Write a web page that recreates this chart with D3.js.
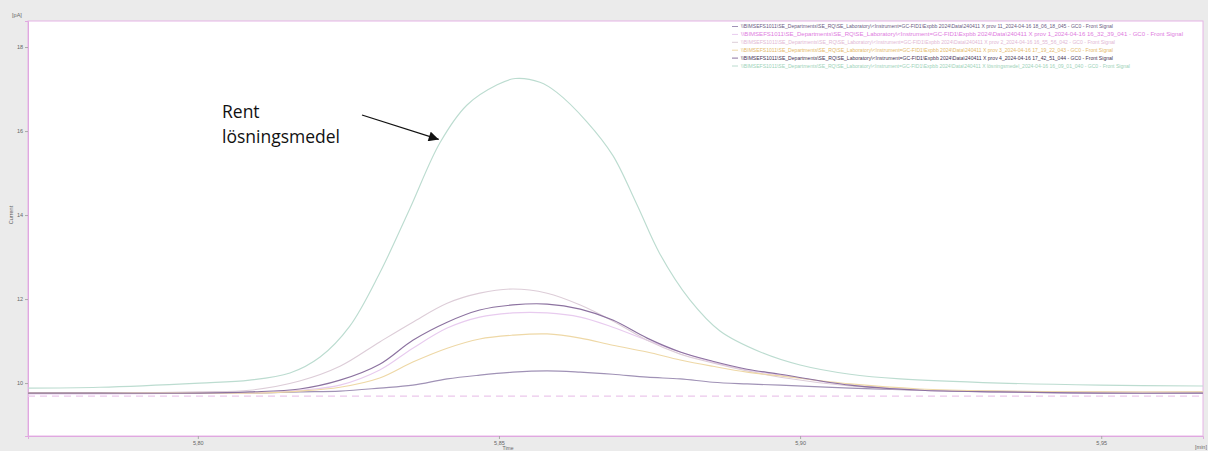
<!DOCTYPE html>
<html>
<head>
<meta charset="utf-8">
<script src="https://cdn.jsdelivr.net/npm/d3@7"></script>
<style>
  body { margin: 0; background: #ebebeb; }
  svg { display: block; font-family: "Liberation Sans", "DejaVu Sans", sans-serif; }
</style>
</head>
<body>
<svg id="chart" width="1208" height="451"></svg>
<script>
// retention time [min] shared by the five sample traces
const sampleTime = [5.7718, 5.7837, 5.8003, 5.8086, 5.8169, 5.8236, 5.8302, 5.8357, 5.8414, 5.8468,
  5.8523, 5.8580, 5.8635, 5.8689, 5.8746, 5.8801, 5.8855, 5.8912, 5.8967, 5.9083, 5.9199, 5.9332, 5.9498, 5.9669];

// current [pA]
const prov11 = [9.76, 9.76, 9.76, 9.76, 9.79, 9.81, 9.88, 9.95, 10.10, 10.19, 10.26, 10.29, 10.26, 10.21,
  10.14, 10.10, 10.02, 9.98, 9.95, 9.88, 9.83, 9.79, 9.76, 9.76];
const prov1 = [9.74, 9.74, 9.76, 9.76, 9.83, 9.95, 10.31, 10.83, 11.31, 11.57, 11.67, 11.67, 11.57, 11.33,
  11.02, 10.74, 10.50, 10.31, 10.19, 9.95, 9.83, 9.79, 9.76, 9.76];
const prov2 = [9.76, 9.76, 9.79, 9.83, 10.05, 10.40, 10.98, 11.45, 11.90, 12.14, 12.24, 12.14, 11.86, 11.48,
  11.02, 10.69, 10.48, 10.29, 10.14, 9.93, 9.83, 9.81, 9.79, 9.79];
const prov3 = [9.76, 9.76, 9.76, 9.76, 9.81, 9.90, 10.12, 10.50, 10.83, 11.05, 11.14, 11.17, 11.07, 10.90,
  10.74, 10.55, 10.40, 10.26, 10.17, 9.98, 9.86, 9.81, 9.79, 9.79];
const prov4 = [9.76, 9.76, 9.76, 9.79, 9.86, 10.07, 10.45, 11.02, 11.45, 11.74, 11.86, 11.88, 11.76, 11.50,
  11.07, 10.74, 10.52, 10.33, 10.21, 9.95, 9.83, 9.79, 9.76, 9.76];

// pure solvent trace, sampled more densely round its peak
const solventTime = [5.7718, 5.7837, 5.8003, 5.8086, 5.8153, 5.8203, 5.8252, 5.8302, 5.8352, 5.8402, 5.8447,
  5.8497, 5.8527, 5.8568, 5.8596, 5.8646, 5.8689, 5.8729, 5.8767, 5.8817, 5.8867, 5.8934, 5.9000, 5.9083,
  5.9166, 5.9332, 5.9498, 5.9669];
const solvent = [9.88, 9.90, 10.00, 10.07, 10.24, 10.62, 11.35, 12.62, 14.15, 15.72, 16.62, 17.10, 17.25,
  17.16, 16.92, 16.22, 15.42, 14.25, 13.08, 11.98, 11.24, 10.74, 10.43, 10.21, 10.10, 10.00, 9.95, 9.93];

// dashed reference level
const dashedTime = [5.7718, 5.9669];
const dashedLevel = [9.69, 9.69];

const prefix = "\\\\BIMSEFS1011\\SE_Departments\\SE_RQ\\SE_Laboratory\\<Instrument=GC-FID1\\Expbb 2024\\Data\\240411 X ";
const legendNames = [
  prefix + "prov 11_2024-04-16 18_06_18_045 - GC0 - Front Signal",
  prefix + "prov 1_2024-04-16 16_32_39_041 - GC0 - Front Signal",
  prefix + "prov 2_2024-04-16 16_55_56_042 - GC0 - Front Signal",
  prefix + "prov 3_2024-04-16 17_19_22_043 - GC0 - Front Signal",
  prefix + "prov 4_2024-04-16 17_42_51_044 - GC0 - Front Signal",
  prefix + "lösningsmedel_2024-04-16 16_09_01_040 - GC0 - Front Signal"
];
const lineColors = ["#a092b6", "#e8cbef", "#ddcdd8", "#eed8a6", "#8c72a0", "#bcdcd0"];
const textColors = ["#6a5a82", "#e07ce0", "#e2b8d4", "#e4b868", "#43304f", "#9cd2b8"];
const legendWidths = [372, 442, 374, 372, 372, 389];

const series = [
  {time: sampleTime, values: prov11},
  {time: sampleTime, values: prov1},
  {time: sampleTime, values: prov2},
  {time: sampleTime, values: prov3},
  {time: sampleTime, values: prov4},
  {time: solventTime, values: solvent}
];

const svg = d3.select("#chart");
const plotLeft = 28, plotRight = 1203, plotTop = 21, plotBottom = 436;

const x = d3.scaleLinear().domain([5.7718, 5.9669]).range([plotLeft, plotRight]);
const y = d3.scaleLinear().domain([8.74, 18.62]).range([plotBottom, plotTop]);

// plot area
svg.append("rect")
  .attr("x", plotLeft).attr("y", plotTop)
  .attr("width", plotRight - plotLeft).attr("height", plotBottom - plotTop)
  .attr("fill", "#fff")
  .attr("stroke", "#e6b4e6").attr("stroke-width", 1);

const comma = d => d.toFixed(2).replace(".", ",");

const xAxis = svg.append("g")
  .attr("transform", `translate(0,${plotBottom})`)
  .call(d3.axisBottom(x).tickValues([5.80, 5.85, 5.90, 5.95]).tickFormat(comma).tickSize(3).tickPadding(2));
const yAxis = svg.append("g")
  .attr("transform", `translate(${plotLeft},0)`)
  .call(d3.axisLeft(y).ticks(5).tickSize(3).tickPadding(2));

[xAxis, yAxis].forEach(g => {
  g.select(".domain").attr("stroke", "#e0a8e0");
  g.selectAll(".tick line").attr("stroke", "#aaa");
  g.selectAll(".tick text").attr("fill", "#666").attr("font-size", 5.5);
});

svg.append("text").attr("x", 17).attr("y", 17).attr("text-anchor", "middle")
  .attr("font-size", 5.5).attr("fill", "#666").text("[pA]");
svg.append("text").attr("transform", "translate(13,215) rotate(-90)").attr("text-anchor", "middle")
  .attr("font-size", 5.5).attr("fill", "#666").text("Current");
svg.append("text").attr("x", 508).attr("y", 450).attr("text-anchor", "middle")
  .attr("font-size", 5).attr("fill", "#666").text("Time");
svg.append("text").attr("x", 1201).attr("y", 449).attr("text-anchor", "middle")
  .attr("font-size", 5.5).attr("fill", "#666").text("[min]");

const line = d3.line()
  .x(d => x(d[0]))
  .y(d => y(d[1]))
  .curve(d3.curveCatmullRom.alpha(0.5));

const plot = svg.append("g");

plot.append("path")
  .datum(d3.zip(dashedTime, dashedLevel))
  .attr("d", line)
  .attr("fill", "none")
  .attr("stroke", "#ecc8ec")
  .attr("stroke-width", 1.2)
  .attr("stroke-dasharray", "7,5");

plot.selectAll("path.trace")
  .data(series)
  .join("path")
    .attr("class", "trace")
    .attr("d", s => line(d3.zip(s.time, s.values)))
    .attr("fill", "none")
    .attr("stroke", (s, i) => lineColors[i])
    .attr("stroke-width", 1.15);

// legend
const legend = svg.append("g").selectAll("g")
  .data(legendNames)
  .join("g")
    .attr("transform", (d, i) => `translate(732,${26.5 + i * 7.9})`);

legend.append("line")
  .attr("x1", 0).attr("x2", 6)
  .attr("stroke", (d, i) => lineColors[i]);

legend.append("text")
  .attr("x", 9).attr("dy", "0.35em")
  .attr("font-size", 5)
  .attr("fill", (d, i) => textColors[i])
  .attr("textLength", (d, i) => legendWidths[i])
  .attr("lengthAdjust", "spacingAndGlyphs")
  .text(d => d);

// annotation
const note = {time: 5.8400, value: 15.80};
svg.append("defs").append("marker")
  .attr("id", "head")
  .attr("viewBox", "0 0 10 10")
  .attr("refX", 10).attr("refY", 5)
  .attr("markerWidth", 12).attr("markerHeight", 10)
  .attr("markerUnits", "userSpaceOnUse")
  .attr("orient", "auto")
  .append("path").attr("d", "M0,0L10,5L0,10z").attr("fill", "#111");

svg.append("line")
  .attr("x1", 362).attr("y1", 115)
  .attr("x2", x(note.time)).attr("y2", y(note.value))
  .attr("stroke", "#111").attr("stroke-width", 1.3)
  .attr("marker-end", "url(#head)");

const label = svg.append("text")
  .attr("x", 222).attr("y", 118)
  .attr("font-family", "'Open Sans', sans-serif")
  .attr("font-size", 17.5)
  .attr("fill", "#111");
label.append("tspan").attr("x", 222).text("Rent");
label.append("tspan").attr("x", 222).attr("dy", 25).text("lösningsmedel");
</script>
</body>
</html>
